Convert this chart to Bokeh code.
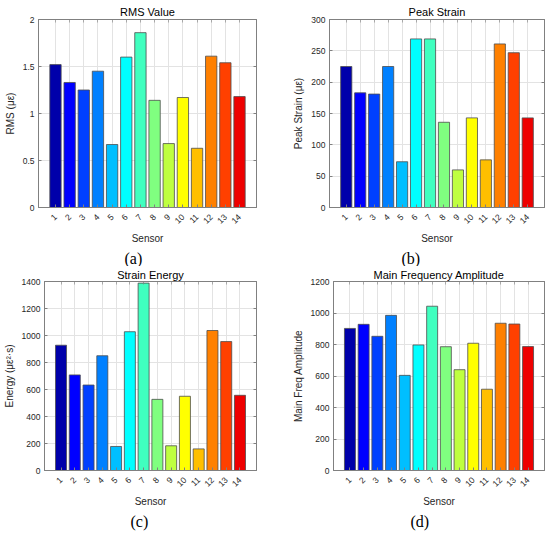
import math
from bokeh.plotting import figure
from bokeh.layouts import column, row
from bokeh.models import (Range1d, FixedTicker, CustomJSTickFormatter, Title, ColumnDataSource,
                          LinearAxis)
from bokeh.embed import file_html
from bokeh.resources import INLINE

sensors = list(range(1, 15))
colors = ["#0000aa", "#0000ff", "#0040ff", "#0080ff", "#00bfff", "#00ffff", "#40ffbf",
          "#80ff80", "#bfff40", "#ffff00", "#ffbf00", "#ff8000", "#ff4000", "#ee0000"]

rms = [1.52, 1.33, 1.25, 1.45, 0.67, 1.60, 1.86, 1.14, 0.68, 1.17, 0.63, 1.61, 1.54, 1.18]
peak = [225, 183, 181, 225, 73, 269, 269, 136, 60, 143, 76, 261, 247, 143]
energy = [928, 708, 633, 850, 178, 1028, 1388, 527, 183, 550, 160, 1037, 955, 557]
freq = [902, 928, 852, 985, 604, 797, 1043, 786, 640, 808, 516, 935, 930, 787]

rms_ticks = [0, 0.5, 1, 1.5, 2]
peak_ticks = [0, 50, 100, 150, 200, 250, 300]
energy_ticks = [0, 200, 400, 600, 800, 1000, 1200, 1400]
freq_ticks = [0, 200, 400, 600, 800, 1000, 1200]

TXT = "#262626"
SANS = "Liberation Sans"
AX = "#808080"


def style_axis(ax):
    ax.axis_line_color = AX
    ax.major_tick_line_color = AX
    ax.major_tick_in = 3
    ax.major_tick_out = 0
    ax.minor_tick_line_color = None
    ax.major_label_text_font = SANS
    ax.major_label_text_font_size = "8.5px"
    ax.major_label_text_color = TXT
    ax.axis_label_text_font = SANS
    ax.axis_label_text_font_size = "10px"
    ax.axis_label_text_font_style = "normal"
    ax.axis_label_text_color = TXT


def box_axis(ax):
    # tick marks only: labels are not drawn
    style_axis(ax)
    ax.major_label_text_font_size = "1px"
    ax.major_label_text_color = None
    ax.major_label_standoff = 0


def make(title, ylabel, vals, yticks, width, height, bl, br, bt, bb, tag, tag_off,
         tag_standoff, title_standoff):
    p = figure(width=width, height=height, output_backend="svg", toolbar_location=None,
               x_range=Range1d(-0.2, 15.2), y_range=Range1d(yticks[0], yticks[-1]),
               min_border_left=bl, min_border_right=br, min_border_top=bt, min_border_bottom=bb)
    src = ColumnDataSource(dict(x=sensors, top=vals, color=colors))
    p.vbar(x="x", top="top", bottom=0, width=0.8, fill_color="color",
           line_color="#4d4d4d", line_width=0.8, source=src)

    p.title.text = title
    p.title.align = "center"
    p.title.text_font = SANS
    p.title.text_font_size = "11px"
    p.title.text_font_style = "normal"
    p.title.text_color = "#000000"
    p.title.standoff = title_standoff

    p.outline_line_color = AX
    p.outline_line_width = 1

    xa = p.xaxis[0]
    style_axis(xa)
    xa.ticker = FixedTicker(ticks=sensors)
    xa.major_label_orientation = 0.7854
    xa.major_label_standoff = 8
    xa.axis_label = "Sensor"
    xa.axis_label_standoff = 4

    ya = p.yaxis[0]
    style_axis(ya)
    ya.ticker = FixedTicker(ticks=yticks)
    ya.formatter = CustomJSTickFormatter(code="return tick.toString();")
    ya.major_label_standoff = 4
    ya.axis_label = ylabel
    ya.axis_label_standoff = 4

    top_ax = LinearAxis(ticker=FixedTicker(ticks=sensors))
    box_axis(top_ax)
    top_ax.major_tick_line_alpha = 0.6
    p.add_layout(top_ax, "above")

    right_ax = LinearAxis(ticker=FixedTicker(ticks=yticks))
    box_axis(right_ax)
    p.add_layout(right_ax, "right")

    p.xgrid.grid_line_color = "#e3e3e3"
    p.ygrid.grid_line_color = "#e3e3e3"

    t = Title(text=tag, align="left", offset=tag_off, text_font="Liberation Serif",
              text_font_size="16px", text_font_style="normal", text_color="#000000",
              standoff=tag_standoff)
    p.add_layout(t, "below")
    return p


pa = make("RMS Value", "RMS (με)", rms, rms_ticks, 266, 266, 38, 10, 19, 58, "(a)", 86, 0, 3)
pb = make("Peak Strain", "Peak Strain (με)", peak, peak_ticks, 284, 266, 63, 6, 19, 58, "(b)", 72, 0, 3)
pc = make("Strain Energy", "Energy (με²·s)", energy, energy_ticks, 266, 268, 41, 10, 15, 64, "(c)", 86, 0, 1)
pd = make("Main Frequency Amplitude", "Main Freq Amplitude", freq, freq_ticks, 284, 268, 67, 6, 15, 63, "(d)", 77, 0, 1)

layout = column(row(pa, pb), row(pc, pd))
open("out.html", "w").write(file_html(layout, INLINE))
